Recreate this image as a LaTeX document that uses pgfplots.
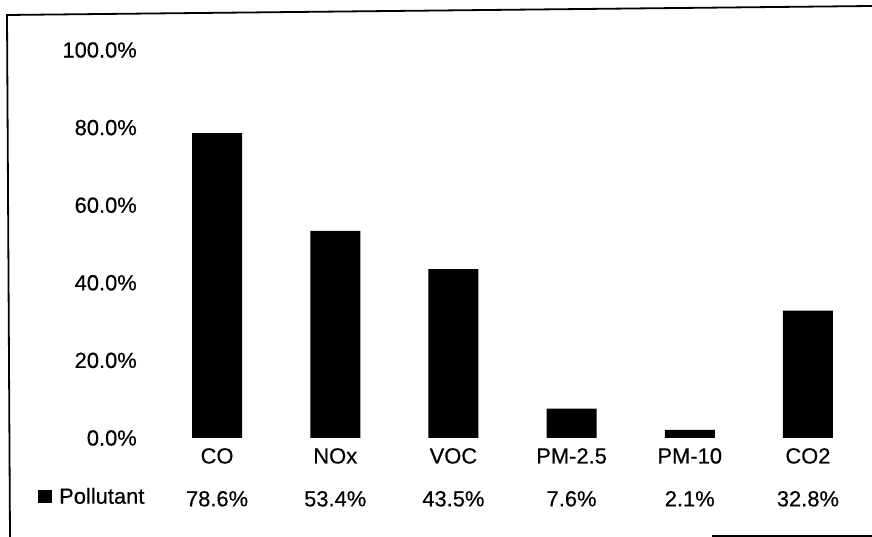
\documentclass[border=0pt]{standalone}
\usepackage{fontspec}
\setmainfont{Liberation Sans}
\newfontfamily\scanfont[FakeBold=0.4]{Liberation Sans}
\usepackage{pgfplots}
\usepackage{pgfplotstable}
\pgfplotsset{compat=1.18}

% share of emissions by pollutant
\pgfplotstableread{
x name  value
0 CO    78.6
1 NOx   53.4
2 VOC   43.5
3 PM-2.5 7.6
4 PM-10  2.1
5 CO2   32.8
}\pollutants

\newcommand{\chartfont}{\scanfont\fontsize{22}{43}\selectfont}

\begin{document}
\begin{tikzpicture}[x=1bp,y=1bp]
\useasboundingbox (0,0) rectangle (872,537);
% chart frame
\draw[line width=1.8bp] (10,0) -- (7,522) -- (872,531);
\draw[line width=1.4bp] (712,1) -- (872,1);
\begin{axis}[
  at={(158bp,99bp)}, anchor=south west,
  scale only axis, width=709bp, height=388bp,
  xmin=-0.5, xmax=5.5, ymin=0, ymax=100,
  axis line style={draw=none},
  major tick length=0pt,
  xtick=data,
  ytick={0,20,40,60,80,100},
  /pgf/number format/assume math mode=true,
  yticklabel={\pgfmathprintnumber[fixed,fixed zerofill,precision=1]{\tick}\%},
  yticklabel style={font=\chartfont, inner sep=0pt, anchor=east, xshift=-21bp},
  % category name with its value from the data table underneath
  xticklabel={%
    \pgfplotstablegetelem{\ticknum}{name}\of\pollutants
    \global\let\catname\pgfplotsretval
    \pgfplotstablegetelem{\ticknum}{value}\of\pollutants
    \global\let\catvalue\pgfplotsretval
    \catname\\\catvalue\%},
  xticklabel style={font=\chartfont, inner sep=0pt, anchor=north, align=center, yshift=-10bp},
  legend style={draw=none, fill=none, font=\chartfont, inner sep=0pt,
    column sep=7bp, nodes={inner sep=0pt},
    at={(axis description cs:-0.1693,-0.1508)}, anchor=west,
    legend cell align=left},
  legend image code/.code={\fill[black] (0bp,-6.5bp) rectangle (14bp,6.5bp);},
]
\addplot[ybar, bar width=50bp, fill=black, draw=none] table[x=x, y=value] {\pollutants};
\addlegendentry{Pollutant}
\end{axis}
\end{tikzpicture}
\end{document}
